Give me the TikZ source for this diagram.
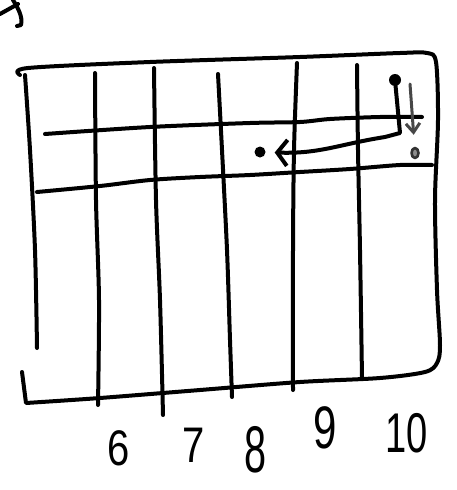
\documentclass[tikz,border=0pt]{standalone}
\usepackage{fontspec}
\setmainfont{Liberation Sans}
\usetikzlibrary{arrows.meta,shapes.geometric}
\begin{document}
\begin{tikzpicture}[x=1pt,y=-1pt,line cap=round,line join=round]
\tikzset{
  ink/.style={line width=4pt,black},
  grayink/.style={line width=3pt,black!72},
  dotnode/.style={circle,fill=black,inner sep=0pt,minimum size=12pt},
  graydot/.style={ellipse,draw=black!80,fill=black!45,line width=2.6pt,inner sep=0pt,minimum width=7pt,minimum height=10pt},
  lbl/.style={inner sep=0pt,font=\fontsize{50}{50}\selectfont},
  barb/.style={-{Straight Barb[length=10pt,width=26pt,line width=4pt]}},
  graybarb/.style={-{Straight Barb[length=9pt,width=14pt,line width=3pt]}}
}
\useasboundingbox (0,0) rectangle (456,490);
% mark cut off at top-left
\draw[ink] (0,14) -- (18,4);
\draw[ink] (13,0) .. controls (18,8) and (23,17) .. (21,25) -- (17,26);
% frame: top, right and bottom in one stroke
\draw[ink] plot[smooth,tension=0.5] coordinates {(20,75) (28,68) (150,62) (300,57) (400,53) (427,53) (436,62) (438,120) (435,200) (437,290) (440,345) (437,363) (425,372) (380,378) (300,382) (200,390) (100,398) (26,403)} -- (22,372);
% left edge
\draw[ink] plot[smooth] coordinates {(25,75) (30,150) (35,250) (37,348)};
% vertical lines
\draw[ink] plot[smooth] coordinates {(95,73) (96,200) (99,300) (98,405)};
\draw[ink] plot[smooth] coordinates {(154,68) (156,200) (160,300) (163,415)};
\draw[ink] plot[smooth] coordinates {(218,74) (222,150) (227,250) (230,340) (232,397)};
\draw[ink] plot[smooth] coordinates {(297,63) (294,150) (293,250) (293,390)};
\draw[ink] plot[smooth] coordinates {(357,65) (358,150) (360,250) (362,378)};
% horizontal lines
\draw[ink] plot[smooth] coordinates {(45,134) (150,127) (250,123) (300,122) (330,119) (380,117) (422,117)};
\draw[ink] plot[smooth] coordinates {(37,192) (100,186) (150,180) (200,177) (250,175) (300,172) (350,169) (400,165) (432,165)};
% dots
\node[dotnode] (A) at (395,80) {};
\node[dotnode,minimum size=11pt] (B) at (260,152) {};
\node[graydot] (C) at (415,153) {};
\coordinate (g0) at (410,84);
% black arrow
\draw[ink,barb,shorten >=9pt] (A) -- (400,133) -- (385,137) .. controls (340,144) and (320,154) .. (B);
% gray arrow
\draw[grayink,graybarb,shorten >=12pt] (g0) -- (C);
% labels
\node[lbl] (l6) at (119,448) {\scalebox{0.8}[1]{6}};
\node[lbl] (l7) at (194,445) {\scalebox{0.8}[1]{7}};
\node[lbl,font=\fontsize{66}{66}\selectfont] (l8) at (256,450) {\scalebox{0.6}[1]{8}};
\node[lbl,font=\fontsize{60}{60}\selectfont] (l9) at (325,428) {\scalebox{0.7}[1]{9}};
\node[lbl,font=\fontsize{56}{56}\selectfont] (l10) at (407,433) {\scalebox{0.68}[1]{10}};
\end{tikzpicture}
\end{document}
